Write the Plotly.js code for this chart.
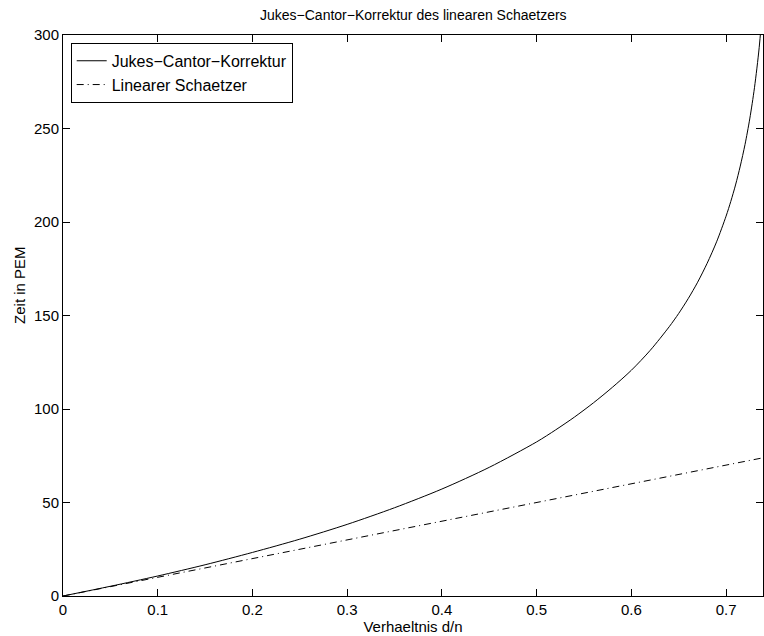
<!DOCTYPE html>
<html>
<head>
<meta charset="utf-8">
<script src="https://cdn.plot.ly/plotly-3.0.1.min.js"></script>
<style>html,body{margin:0;padding:0;background:#fff;}#chart{width:764px;height:636px;}</style>
</head>
<body>
<div id="chart"></div>
<script>
// Values
const ratioJC = [0, 0.05, 0.1, 0.15, 0.2, 0.25, 0.3, 0.35, 0.4, 0.45, 0.5, 0.52, 0.54, 0.56, 0.58, 0.6, 0.62, 0.64, 0.65, 0.66, 0.67, 0.68, 0.69, 0.7, 0.705, 0.71, 0.715, 0.72, 0.725, 0.73, 0.735, 0.74];
const timeJC  = [0, 5.2, 10.7, 16.7, 23.3, 30.4, 38.3, 47.2, 57.2, 68.8, 82.4, 88.8, 95.7, 103.3, 111.6, 120.7, 131.4, 144.0, 151.1, 159.0, 167.8, 177.9, 189.4, 203.1, 211.0, 219.8, 229.9, 241.4, 255.1, 271.8, 293.4, 323.8];
const ratioLin = [0, 0.1, 0.2, 0.3, 0.4, 0.5, 0.6, 0.7, 0.74];
const timeLin  = [0, 10, 20, 30, 40, 50, 60, 70, 74];
const xTicks = [0, 0.1, 0.2, 0.3, 0.4, 0.5, 0.6, 0.7];
const xTickText = ['0', '0.1', '0.2', '0.3', '0.4', '0.5', '0.6', '0.7'];
const yTicks = [0, 50, 100, 150, 200, 250, 300];
const seriesNames = ['Jukes\u2212Cantor\u2212Korrektur', 'Linearer Schaetzer'];
const titleText = 'Jukes\u2212Cantor\u2212Korrektur des linearen Schaetzers';
const xTitle = 'Verhaeltnis d/n';
const yTitle = 'Zeit in PEM';

const font = {family: 'Liberation Sans, Arial, sans-serif', color: '#000'};

const traces = [
  {x: ratioJC, y: timeJC, name: seriesNames[0], mode: 'lines', line: {color: '#000', width: 1, shape: 'spline', smoothing: 0.8}},
  {x: ratioLin, y: timeLin, name: seriesNames[1], mode: 'lines', line: {color: '#000', width: 1, dash: '7px,4px,1px,4px'}}
];

const axisCommon = {
  showline: true, linecolor: '#000', linewidth: 1, mirror: 'ticks',
  ticks: 'inside', ticklen: 7, tickcolor: '#000', tickwidth: 1,
  showgrid: false, zeroline: false,
  tickfont: Object.assign({size: 15}, font)
};

const layout = {
  width: 764, height: 636,
  margin: {l: 63, r: 1, t: 35, b: 40},
  paper_bgcolor: '#fff', plot_bgcolor: '#fff',
  font: font,
  title: {text: titleText, font: Object.assign({size: 14}, font), x: 0.541, xanchor: 'center', y: 0.976, yanchor: 'middle'},
  xaxis: Object.assign({}, axisCommon, {range: [0, 0.739], tickvals: xTicks, ticktext: xTickText,
    title: {text: xTitle, font: Object.assign({size: 15}, font), standoff: 1}}),
  yaxis: Object.assign({}, axisCommon, {range: [0, 300], tickvals: yTicks}),
  annotations: [{text: yTitle, textangle: -90, xref: 'paper', yref: 'paper', x: -0.063, xanchor: 'center',
    y: (596 - 285) / 561, yanchor: 'middle', showarrow: false, font: Object.assign({size: 15}, font)}],
  showlegend: true,
  legend: {x: 0.011, y: 0.986, xanchor: 'left', yanchor: 'top', bgcolor: '#fff', bordercolor: '#000', borderwidth: 1,
    font: Object.assign({size: 16}, font), tracegroupgap: 0, itemwidth: 30}
};

Plotly.newPlot('chart', traces, layout, {staticPlot: true, displayModeBar: false});
</script>
</body>
</html>
